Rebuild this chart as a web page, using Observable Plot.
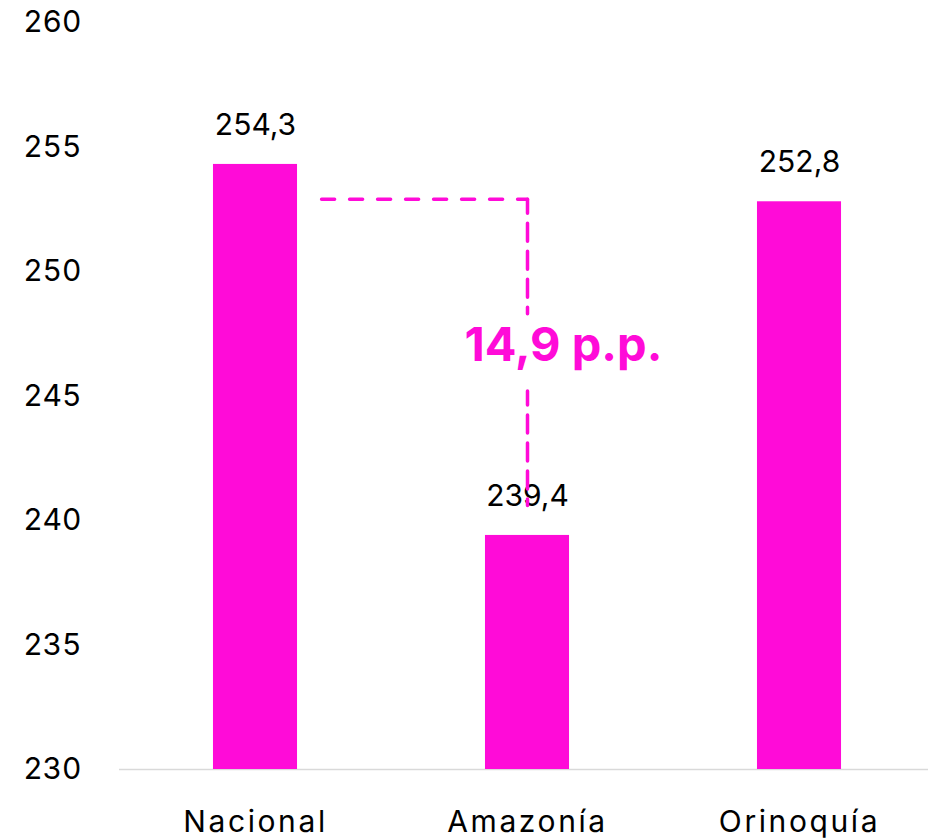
<!DOCTYPE html>
<html>
<head>
<meta charset="utf-8">
<script src="https://cdn.jsdelivr.net/npm/d3@7"></script>
<script src="https://cdn.jsdelivr.net/npm/@observablehq/plot@0.6"></script>
<style>
  html, body { margin: 0; padding: 0; background: #fff; }
  #chart { width: 928px; height: 838px; }
</style>
</head>
<body>
<div id="chart"></div>
<script>
// Data
const categories = ["Nacional", "Amazonía", "Orinoquía"];
const values = [254.3, 239.4, 252.8];
const valueLabels = ["254,3", "239,4", "252,8"];
const yTicks = [230, 235, 240, 245, 250, 255, 260];

// Annotation (gap between Nacional and Amazonía), positions in category index / value units
const gapLabel = "14,9 p.p.";
const gapLabelX = [1.132];
const gapLabelY = [247.0];
const hLineX = [0.243, 1];
const hLineY = [252.9, 252.9];
const vLineX = [1, 1, 1, 1, 1];
const vLineY = [252.9, 248.3, NaN, 245.2, 240.6];

const MAGENTA = "#ff0bd8";
const bars = categories.map((c, i) => ({i, category: c, value: values[i], label: valueLabels[i]}));

const chart = Plot.plot({
  width: 928,
  height: 838,
  marginTop: 22,
  marginBottom: 69,
  marginLeft: 119,
  marginRight: 0,
  style: {fontFamily: "Inter, 'DejaVu Sans', sans-serif", color: "#000", background: "#fff"},
  x: {type: "linear", domain: [-0.5, 2.5], range: [119, 935]},
  y: {domain: [230, 260]},
  marks: [
    Plot.ruleY([230], {x1: -0.5, x2: 2.5, stroke: "#d9d9d9", strokeWidth: 1.5}),
    Plot.rectY(bars, {x1: d => d.i - 0.1545, x2: d => d.i + 0.1545, y1: 230, y2: "value", fill: MAGENTA}),
    Plot.text(bars, {x: "i", y: "value", text: "label", dy: -39, fontSize: 30, fill: "#000"}),
    Plot.axisY(yTicks, {tickSize: 0, tickPadding: 38, fontSize: 30, tickFormat: d3.format("d")}),
    Plot.axisX([0, 1, 2], {tickSize: 0, tickPadding: 41, fontSize: 30, tickFormat: i => categories[i]}),
    Plot.line(hLineX.map((x, k) => ({x, y: hLineY[k]})), {x: "x", y: "y", stroke: MAGENTA, strokeWidth: 3.5, strokeDasharray: "13,15"}),
    Plot.line(vLineX.map((x, k) => ({x, y: vLineY[k]})), {x: "x", y: "y", stroke: MAGENTA, strokeWidth: 3.5, strokeDasharray: "18,10", strokeDashoffset: 4}),
    Plot.text(gapLabelX.map((x, k) => ({x, y: gapLabelY[k]})), {x: "x", y: "y", text: () => gapLabel, fontSize: 47, fontWeight: "bold", fill: MAGENTA})
  ]
});

d3.select(chart).selectAll('[aria-label="x-axis tick label"] text').attr("letter-spacing", "2.6px");
document.getElementById("chart").appendChild(chart);
</script>
</body>
</html>
